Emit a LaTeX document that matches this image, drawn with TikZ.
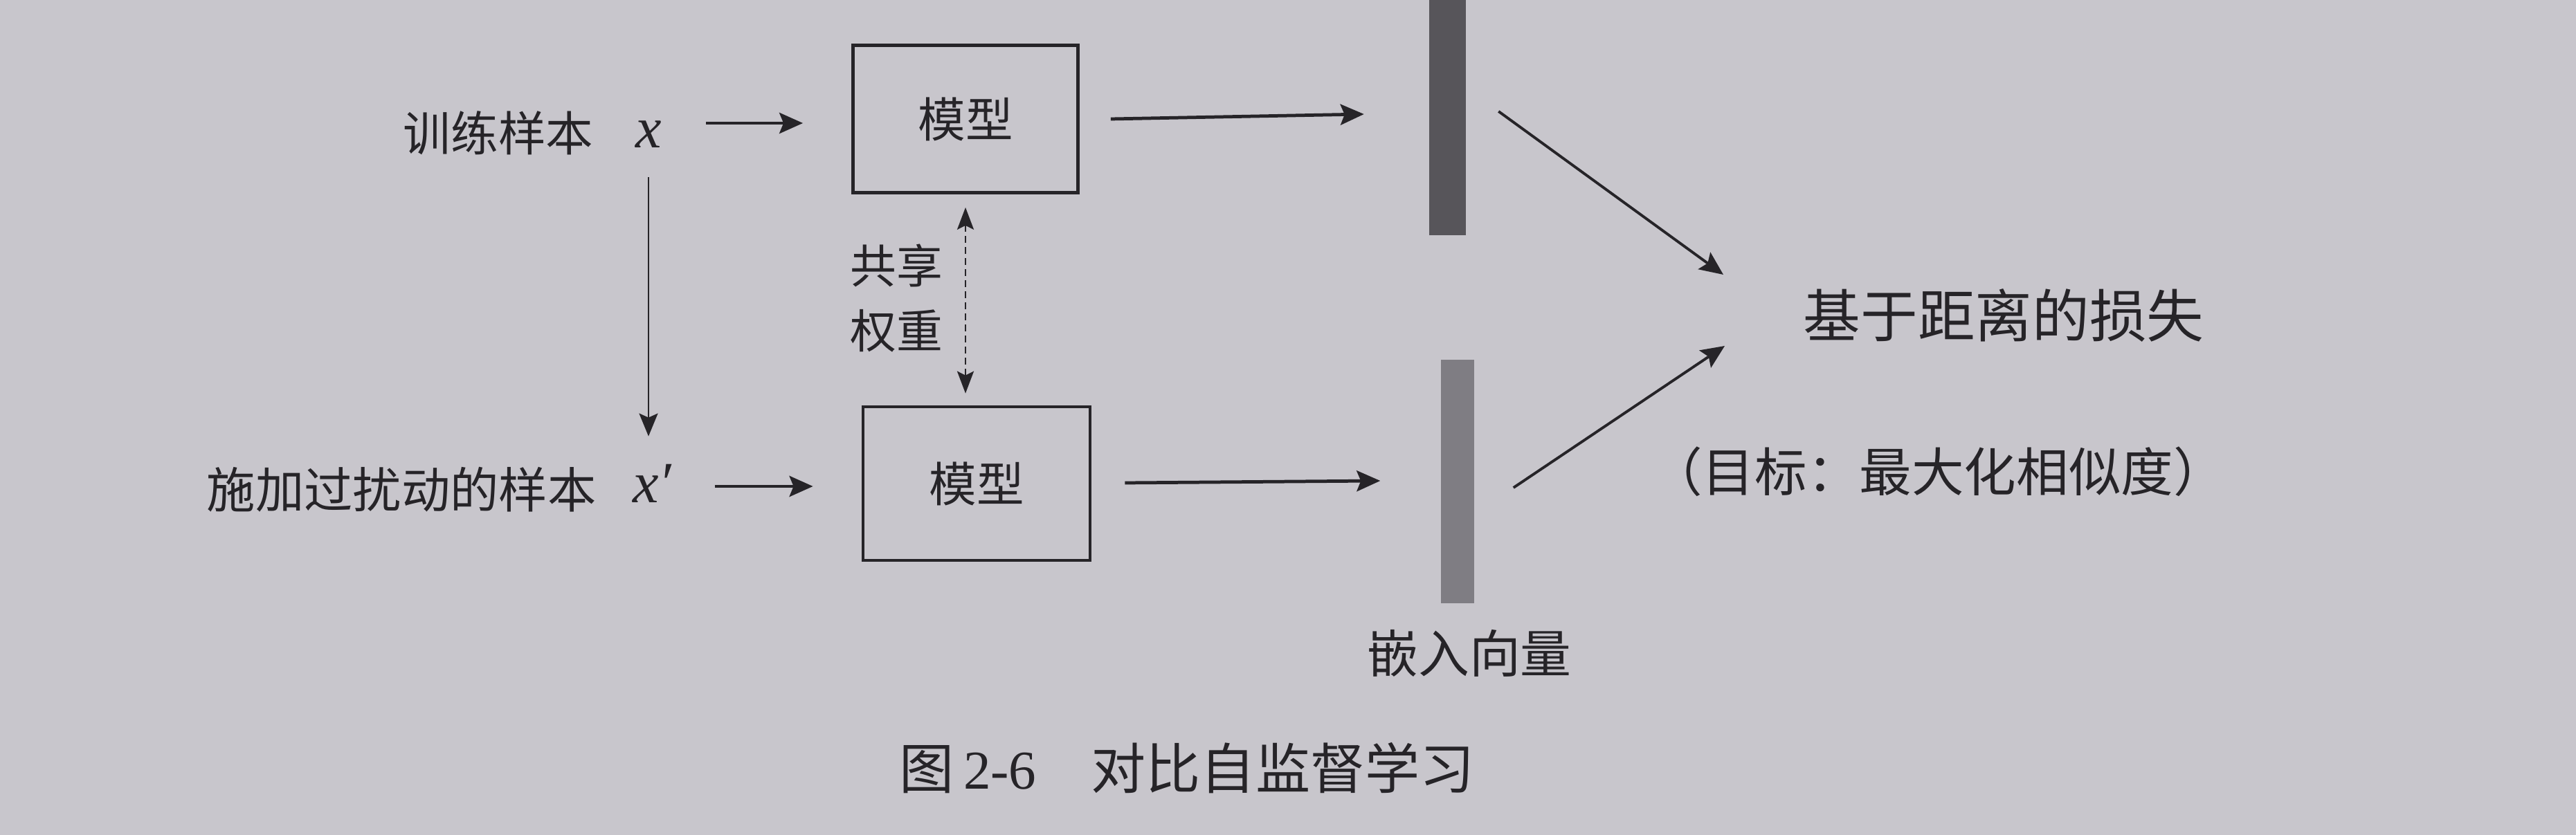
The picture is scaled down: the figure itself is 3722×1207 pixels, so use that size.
\documentclass[tikz,border=0pt]{standalone}
\usepackage{fontspec}
\setmainfont{Noto Sans CJK SC}
\newfontfamily\numfont{Liberation Serif}
\usetikzlibrary{arrows.meta,calc}
\definecolor{paper}{HTML}{C8C6CC}
\definecolor{ink}{HTML}{262428}
\definecolor{barA}{HTML}{57555A}
\definecolor{barB}{HTML}{7F7D83}
\newcommand\setfs[1]{\fontsize{#1}{#1}\selectfont}
\begin{document}
\begin{tikzpicture}[x=0.01cm,y=-0.01cm,
  lbl/.style={inner sep=0pt, text=ink},
  modelbox/.style={draw=ink, line width=1.3pt, inner sep=0pt, text=ink, font=\setfs{19.5pt}},
  barbox/.style={inner sep=0pt, draw=none},
  tipS/.tip={Stealth[length=0.34cm,width=0.3cm,inset=0.06cm]},
  arr/.style={-tipS, line width=1.35pt, draw=ink},
  diagarr/.style={-tipS, line width=1.1pt, draw=ink},
  thinarr/.style={-{Stealth[length=0.33cm,width=0.27cm,inset=0.06cm]}, line width=0.8pt, draw=ink},
  dasharr/.style={{Stealth[length=0.32cm,width=0.24cm,inset=0.06cm]}-{Stealth[length=0.32cm,width=0.24cm,inset=0.06cm]}, line width=0.8pt, draw=ink, dash pattern=on 0.1cm off 0.06cm}
]
\fill[paper] (0,0) rectangle (3722,1207);
\useasboundingbox (0,0) rectangle (3722,1207);

% inputs
\node[lbl, font=\setfs{19.5pt}] (train) at (720,192) {训练样本};
\node[lbl, font=\setfs{24pt}\numfont\itshape] (x) at (937,194) {x};
\node[lbl, font=\setfs{20pt}] (pert) at (580,708) {施加过扰动的样本};
\node[lbl, font=\setfs{24pt}\numfont\itshape] (xp) at (942,699) {x′};

% models
\node[modelbox, minimum width=3.25cm, minimum height=2.13cm] (m1) at (1395,172) {模型};
\node[modelbox, minimum width=3.28cm, minimum height=2.22cm] (m2) at (1411,699) {模型};

% shared weights label
\node[lbl, font=\fontsize{19pt}{26.5pt}\selectfont, align=center] (share) at (1295,431) {共享\\权重};

% embedding bars
\node[barbox, fill=barA, minimum width=0.53cm, minimum height=3.5cm] (e1) at (2091,165) {};
\node[barbox, fill=barB, minimum width=0.48cm, minimum height=3.51cm] (e2) at (2106,696) {};
\node[lbl, font=\setfs{21pt}] (emb) at (2123,944) {嵌入向量};

% loss
\node[lbl, font=\setfs{23.5pt}] (loss) at (2895,456) {基于距离的损失};
\node[lbl, font=\setfs{21.5pt}] (goal) at (2800,682) {（目标：最大化相似度）};

% caption
\node[lbl, anchor=west, font=\setfs{22.5pt}] (cap) at (1299,1110) {图\,{\numfont 2-6}\quad 对比自监督学习};

\coordinate (t1) at (2490,397);
\coordinate (t2) at (2492,500);

% connectors
\draw[arr] ($(x.east |- m1.west)+(64,6)$) -- ($(m1.west)+(-70,6)$);
\draw[arr] ($(m1.east)+(45,0)$) -- ($(m1.east -| e1.west)+(-93,-7)$);
\draw[arr] ($(xp.east |- m2.west)+(62,4)$) -- ($(m2.west)+(-70,4)$);
\draw[arr] ($(m2.east)+(48,-1)$) -- ($(m2.east -| e2.west)+(-87,-4)$);
\draw[thinarr, shorten <=0.42cm, shorten >=0.4cm] (x.south) -- (x.south |- xp.north);
\draw[dasharr, shorten <=0.19cm, shorten >=0.17cm] (m1.south) -- (m1.south |- m2.north);
\draw[diagarr] ($(e1.east)+(47,-4)$) -- (t1);
\draw[diagarr] ($(e2.east)+(56,9)$) -- (t2);
\end{tikzpicture}
\end{document}
